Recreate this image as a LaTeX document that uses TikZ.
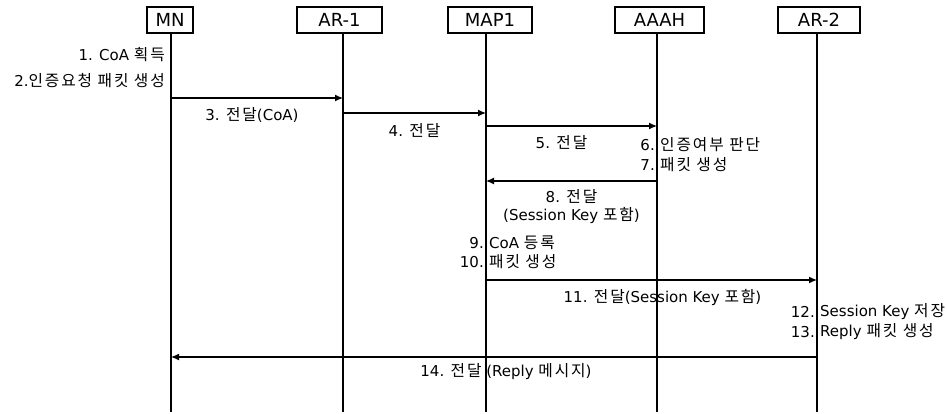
\documentclass[tikz,border=0pt]{standalone}
\usepackage{fontspec}
\setmainfont{DejaVu Sans}
\newfontfamily\kr[Scale=1.05, LetterSpace=12]{Noto Sans CJK KR}
\usetikzlibrary{arrows.meta,positioning}
\tikzset{
	%Define standard arrow tip
	>={Latex[length=8pt,width=7pt]},
	%Define style for actor boxes
	actor/.style={
		rectangle,
		draw=black, line width=1.3pt,
		minimum height=26pt,
		inner sep=0pt,
		font=\fontsize{18}{20}\selectfont},
	% Define lifeline style
	lifeline/.style={line width=2pt},
	% Define message arrow style
	msg/.style={->, line width=1.2pt},
	% label under a message
	lbl/.style={font=\fontsize{15}{18}\selectfont, yshift=-17pt, inner sep=0pt, align=center},
	% step number left of a lifeline
	num/.style={font=\fontsize{15}{18}\selectfont, anchor=east, inner sep=0pt, xshift=-2pt},
	% step text right of a lifeline
	note/.style={font=\fontsize{15}{18}\selectfont, anchor=west, inner sep=0pt, xshift=3pt}
}

\begin{document}
\begin{tikzpicture}[x=1pt, y=-1pt]
	\useasboundingbox (0,0) rectangle (947,414);
	
	% actors
	\node[actor, minimum width=46pt] (mn) at (170,20) {MN};
	\node[actor, minimum width=85pt] (ar1) at (339.5,20) {AR-1};
	\node[actor, minimum width=84pt] (map) at (490,20) {MAP1};
	\node[actor, minimum width=89pt] (aaah) at (659.5,20) {AAAH};
	\node[actor, minimum width=82pt] (ar2) at (819,20) {AR-2};
	
	% lifelines
	\coordinate (mnL) at (171,0);
	\coordinate (ar1L) at (343,0);
	\coordinate (mapL) at (486,0);
	\coordinate (aaahL) at (657,0);
	\coordinate (ar2L) at (817,0);
	\coordinate (bot) at (0,412);
	\foreach \a/\l in {mn/mnL, ar1/ar1L, map/mapL, aaah/aaahL, ar2/ar2L}
		\draw[lifeline] (\a.south -| \l) -- (\l |- bot);
	
	% steps at MN
	\node[num, xshift=-4pt] (s1) at (mnL |- 0,55) {1. CoA {\kr 획득}};
	\node[num, xshift=-4pt] (s2) at (mnL |- 0,81) {2.{\kr 인증요청 패킷 생성}};
	
	% messages
	\draw[msg] (mnL |- 0,98) -- node[lbl, xshift=-5pt] (m3) {3. {\kr 전달}(CoA)} (ar1L |- 0,98);
	\draw[msg] (ar1L |- 0,113) -- node[lbl, yshift=-1pt] (m4) {4. {\kr 전달}} (mapL |- 0,113);
	\draw[msg] (mapL |- 0,126) -- node[lbl, xshift=-10pt] (m5) {5. {\kr 전달}} (aaahL |- 0,126);
	
	% steps at AAAH
	\node[num] (s6) at (aaahL |- 0,145) {6.};
	\node[note] (t6) at (aaahL |- 0,145) {\kr 인증여부 판단};
	\node[num] (s7) at (aaahL |- 0,165) {7.};
	\node[note] (t7) at (aaahL |- 0,165) {\kr 패킷 생성};
	
	\draw[msg] (aaahL |- 0,181) -- node[lbl, yshift=-9pt] (m8) {8. {\kr 전달}\\(Session Key {\kr 포함})} (mapL |- 0,181);
	
	% steps at MAP1
	\node[num] (s9) at (mapL |- 0,243) {9.};
	\node[note] (t9) at (mapL |- 0,243) {CoA {\kr 등록}};
	\node[num] (s10) at (mapL |- 0,262) {10.};
	\node[note] (t10) at (mapL |- 0,262) {\kr 패킷 생성};
	
	\draw[msg] (mapL |- 0,280) -- node[lbl, xshift=11pt] (m11) {11. {\kr 전달}(Session Key {\kr 포함})} (ar2L |- 0,280);
	
	% steps at AR-2
	\node[num] (s12) at (ar2L |- 0,312) {12.};
	\node[note] (t12) at (ar2L |- 0,312) {Session Key {\kr 저장}};
	\node[num] (s13) at (ar2L |- 0,332) {13.};
	\node[note] (t13) at (ar2L |- 0,332) {Reply {\kr 패킷 생성}};
	
	\draw[msg] (ar2L |- 0,357) -- node[lbl, xshift=12pt, yshift=2pt] (m14) {14. {\kr 전달} (Reply {\kr 메시지})} (mnL |- 0,357);
	
\end{tikzpicture}
\end{document}
